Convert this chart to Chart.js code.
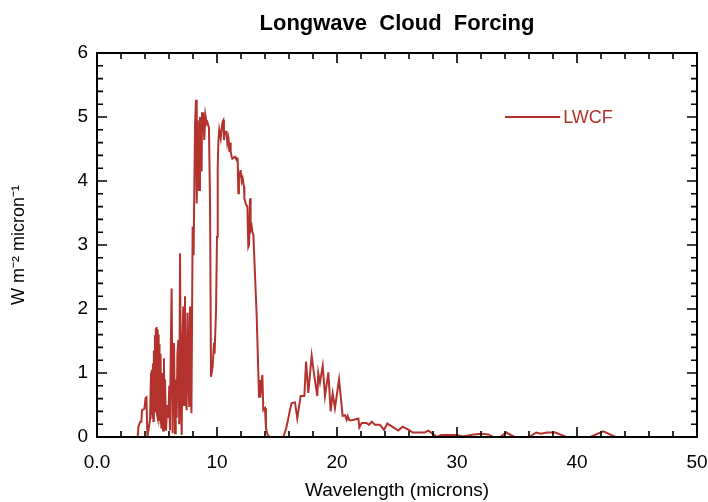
<!DOCTYPE html>
<html>
<head>
<meta charset="utf-8">
<script src="https://cdn.jsdelivr.net/npm/chart.js@4.4.1/dist/chart.umd.min.js"></script>
<style>
  html, body { margin: 0; padding: 0; background: #fff; }
  canvas { display: block; }
</style>
</head>
<body>
<canvas id="lwcfChart" width="708" height="502"></canvas>
<script>
// wavelength in microns
const wavelength = [
  0, 3.3, 3.39, 3.45, 3.6, 3.7, 3.75, 3.95, 4.05, 4.12, 4.2, 4.42, 4.5, 4.54, 4.58, 4.62,
  4.66, 4.7, 4.74, 4.78, 4.83, 4.86, 4.9, 4.93, 4.97, 5.0, 5.04, 5.07, 5.11, 5.14, 5.18, 5.21,
  5.25, 5.28, 5.32, 5.36, 5.39, 5.45, 5.5, 5.58, 5.62, 5.67, 5.75, 5.85, 5.95, 6.02, 6.08, 6.15,
  6.22, 6.3, 6.36, 6.42, 6.5, 6.56, 6.64, 6.7, 6.78, 6.85, 6.92, 7.0, 7.06, 7.12, 7.19, 7.25,
  7.33, 7.4, 7.47, 7.55, 7.62, 7.69, 7.75, 7.8, 7.87, 7.97, 8.05, 8.17, 8.25,
  8.31, 8.4, 8.5, 8.58, 8.65, 8.72, 8.75, 8.85, 8.94, 9.03, 9.14, 9.2, 9.33, 9.42, 9.5, 9.64,
  9.75, 9.8, 9.92, 10.0, 10.06, 10.11, 10.19, 10.31, 10.39, 10.47, 10.53, 10.58, 10.67, 10.8, 10.86, 10.95,
  11.03, 11.1, 11.14, 11.22, 11.28, 11.5, 11.58, 11.72, 11.78, 11.83, 11.92, 11.97, 12.06, 12.14, 12.25, 12.28,
  12.42, 12.53, 12.61, 12.67, 12.75, 12.8, 12.89, 12.95, 13.03, 13.31, 13.5, 13.58, 13.67, 13.78, 13.86, 14.0,
  14.08, 14.22, 14.4, 15.53, 15.8, 16.08, 16.22, 16.5, 16.69, 16.97, 17.28, 17.42, 17.61, 17.89, 18.08, 18.36,
  18.44, 18.58, 18.81, 19.0, 19.28, 19.47, 19.64, 19.83, 20.17, 20.47, 20.67, 20.8, 20.89, 21.03, 21.22, 21.42,
  21.78, 21.86, 22.06, 22.47, 22.67, 22.89, 23.17, 23.58, 23.92, 24.19, 24.69, 25.1, 25.47, 26.0, 26.3, 27.3,
  27.6, 28.0, 28.3, 28.7, 30.0, 30.5, 31.4, 32.06, 32.6, 33.0, 33.6, 34.1, 34.8, 36.0, 36.6, 37.0,
  37.5, 38.2, 39.1, 41.1, 42.2, 43.2, 50
];

// longwave cloud forcing, W m-2 micron-1
const lwcf = [
  0, 0, 0, 0.16, 0.24, 0.24, 0.42, 0.44, 0.61, 0.62, 0, 0.27, 1.0, 0.35, 1.05, 0.3,
  1.15, 0.25, 1.35, 0.4, 1.59, 0.5, 1.7, 0.45, 1.72, 0.35, 1.68, 0.3, 1.6, 0.25, 1.45, 0.3,
  1.3, 0.2, 1.2, 0.15, 0.22, 1.0, 0.1, 1.23, 0.15, 0.9, 0.1, 0.5, 0.3, 0.8, 0.1, 1.4,
  2.32, 0.06, 1.2, 1.47, 0.06, 0.9, 0.3, 1.3, 1.52, 0.2, 2.87, 0.5, 0.03, 1.5, 2.04, 0.5,
  2.2, 0.8, 0.42, 1.94, 0.9, 0.47, 2.04, 1.6, 0.37, 3.29, 2.84, 4.88, 5.27,
  3.65, 4.95, 3.86, 5.0, 4.52, 4.15, 5.06, 5.06, 4.64, 5.03, 4.9, 4.92, 4.83, 3.65, 0.94, 1.1,
  1.47, 1.3, 1.98, 3.13, 4.2, 4.59, 4.8, 4.67, 4.82, 4.93, 4.95, 4.64, 4.77, 4.77, 4.59, 4.67,
  4.46, 4.6, 4.46, 4.38, 4.35, 4.38, 4.35, 4.35, 3.81, 4.12, 4.07, 4.17, 3.99, 4.04, 3.91, 3.73,
  3.63, 3.6, 2.97, 3.0, 3.73, 3.23, 3.29, 3.2, 3.16, 1.88, 0.63, 0.89, 0.75, 0.97, 0.42, 0.45,
  0.14, 0.03, 0, 0, 0.16, 0.42, 0.53, 0.54, 0.29, 0.64, 0.64, 1.18, 0.69, 1.27, 0.99, 0.64,
  1.0, 0.85, 1.11, 0.64, 1.01, 0.4, 0.68, 0.45, 0.9, 0.33, 0.34, 0.27, 0.33, 0.26, 0.26, 0.27,
  0.29, 0.15, 0.22, 0.22, 0.19, 0.24, 0.19, 0.19, 0.11, 0.21, 0.15, 0.1, 0.16, 0.11, 0.07, 0.07,
  0.1, 0.05, 0, 0.03, 0.03, 0.01, 0.04, 0.05, 0.04, 0, 0, 0.07, 0, 0, 0.07, 0.05,
  0.07, 0.07, 0, 0, 0.09, 0, 0
];

const xMajor = [0, 10, 20, 30, 40, 50];
const yMajor = [0, 1, 2, 3, 4, 5, 6];

const lineColor = "#b3322e";
const fontFamily = "'Liberation Sans', Arial, Helvetica, sans-serif";

function isMajor(list, v) {
  return list.some((m) => Math.abs(m - v) < 1e-6);
}

// box around the plot with inward ticks on all four sides, plus the legend
const framePlugin = {
  id: "frame",
  afterDatasetsDraw(chart) {
    const { ctx, chartArea, scales } = chart;
    const { left, right, top, bottom } = chartArea;
    ctx.save();
    ctx.strokeStyle = "#000";
    ctx.lineWidth = 1.6;
    ctx.beginPath();
    scales.x.ticks.forEach((t) => {
      const px = scales.x.getPixelForValue(t.value);
      const len = isMajor(xMajor, t.value) ? 10 : 6;
      ctx.moveTo(px, bottom);
      ctx.lineTo(px, bottom - len);
      ctx.moveTo(px, top);
      ctx.lineTo(px, top + len);
    });
    scales.y.ticks.forEach((t) => {
      const py = scales.y.getPixelForValue(t.value);
      const len = isMajor(yMajor, t.value) ? 10 : 6;
      ctx.moveTo(left, py);
      ctx.lineTo(left + len, py);
      ctx.moveTo(right, py);
      ctx.lineTo(right - len, py);
    });
    ctx.stroke();
    ctx.lineWidth = 2;
    ctx.strokeRect(left, top, right - left, bottom - top);

    // legend
    const lx0 = scales.x.getPixelForValue(34.0);
    const lx1 = scales.x.getPixelForValue(38.6);
    const ly = scales.y.getPixelForValue(5.0);
    ctx.strokeStyle = lineColor;
    ctx.lineWidth = 2;
    ctx.beginPath();
    ctx.moveTo(lx0, ly);
    ctx.lineTo(lx1, ly);
    ctx.stroke();
    ctx.fillStyle = lineColor;
    ctx.font = "18px " + fontFamily;
    ctx.textBaseline = "middle";
    ctx.textAlign = "left";
    ctx.fillText("LWCF", lx1 + 3, ly + 1);
    ctx.restore();
  },
};

const points = wavelength.map((w, i) => ({ x: w, y: lwcf[i] }));

new Chart(document.getElementById("lwcfChart"), {
  type: "line",
  data: {
    datasets: [
      {
        label: "LWCF",
        data: points,
        borderColor: lineColor,
        backgroundColor: lineColor,
        borderWidth: 2,
        pointRadius: 0,
        tension: 0,
        fill: false,
      },
    ],
  },
  options: {
    responsive: false,
    animation: false,
    layout: { padding: { left: 0, right: 11, top: 0, bottom: 0 } },
    scales: {
      x: {
        type: "linear",
        min: 0,
        max: 50,
        grid: { display: false, drawTicks: false },
        border: { display: false },
        ticks: {
          stepSize: 2,
          autoSkip: false,
          maxRotation: 0,
          padding: 14,
          color: "#000",
          font: { family: fontFamily, size: 19 },
          callback: (v) => (isMajor(xMajor, v) ? (v === 0 ? "0.0" : String(v)) : ""),
        },
        title: {
          display: true,
          text: "Wavelength (microns)",
          color: "#000",
          font: { family: fontFamily, size: 19 },
          padding: { top: 0, bottom: 0 },
        },
        afterFit: (s) => {
          s.height = 65;
          s.paddingLeft = 0;
          s.paddingRight = 0;
        },
      },
      y: {
        min: 0,
        max: 6,
        grid: { display: false, drawTicks: false },
        border: { display: false },
        ticks: {
          stepSize: 0.2,
          autoSkip: false,
          padding: 9,
          color: "#000",
          font: { family: fontFamily, size: 19 },
          callback: (v) => (isMajor(yMajor, v) ? String(Math.round(v)) : ""),
        },
        title: {
          display: true,
          text: "W m\u207B\u00B2 micron\u207B\u00B9",
          color: "#000",
          font: { family: fontFamily, size: 18 },
          padding: { top: 8, bottom: 0 },
        },
        afterFit: (s) => {
          s.width = 97;
          s.paddingTop = 0;
          s.paddingBottom = 0;
        },
      },
    },
    plugins: {
      legend: { display: false },
      tooltip: { enabled: false },
      title: {
        display: true,
        fullSize: false,
        text: "Longwave  Cloud  Forcing",
        color: "#000",
        font: { family: fontFamily, size: 22, weight: "bold" },
        padding: { top: 10.8, bottom: 15.8 },
      },
    },
  },
  plugins: [framePlugin],
});
</script>
</body>
</html>
